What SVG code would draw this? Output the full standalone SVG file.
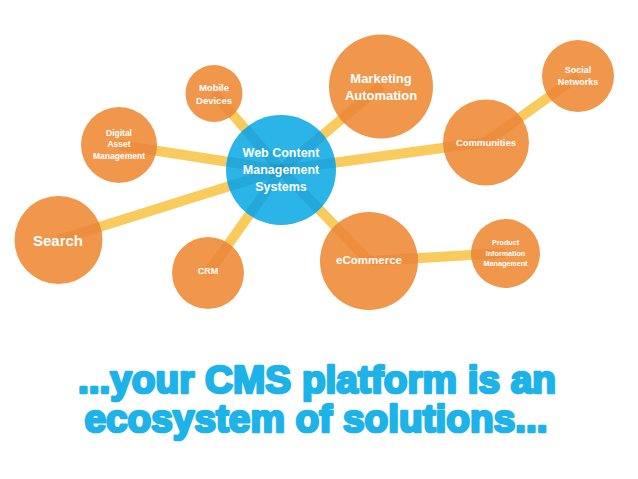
<svg xmlns="http://www.w3.org/2000/svg" xmlns:xlink="http://www.w3.org/1999/xlink" width="638" height="479" viewBox="0 0 638 479">
<style>
.o{fill:#F0974C}
.b{fill:#2AB4E8}
text{font-family:"Liberation Sans",Arial,Helvetica,sans-serif;font-weight:bold;fill:#ffffff;text-anchor:middle}
.title{fill:#1DB3E8;stroke:#1DB3E8;stroke-width:2.7;stroke-linejoin:round;font-size:38px}
</style>
<defs>
<g id="lines">
<line x1="281" y1="170" x2="214" y2="93"/>
<line x1="281" y1="170" x2="119" y2="145"/>
<line x1="281" y1="170" x2="58" y2="240"/>
<line x1="281" y1="170" x2="208" y2="273"/>
<line x1="281" y1="170" x2="381" y2="86"/>
<line x1="281" y1="170" x2="486" y2="142"/>
<line x1="486" y1="142" x2="578" y2="76"/>
<line x1="281" y1="170" x2="369" y2="261"/>
<line x1="369" y1="261" x2="505" y2="253"/>
</g>
<clipPath id="clipO">
<circle cx="214" cy="93.5" r="28.5"/><circle cx="119" cy="145" r="38"/><circle cx="58.5" cy="240" r="44"/><circle cx="208" cy="273" r="36"/><circle cx="381" cy="86.5" r="52"/><circle cx="486" cy="142.5" r="43"/><circle cx="578" cy="76" r="36"/><circle cx="369" cy="261" r="49"/><circle cx="505.5" cy="253.5" r="34.5"/>
</clipPath>
<clipPath id="clipB"><circle cx="281" cy="170" r="55"/></clipPath>
</defs>
<rect width="638" height="479" fill="#ffffff"/>
<g id="connectors">
<use xlink:href="#lines" href="#lines" stroke="#F9CB5C" stroke-width="10"/>
</g>
<g id="node-mobile"><circle class="o" cx="214" cy="93.5" r="28.5"/></g>
<g id="node-dam"><circle class="o" cx="119" cy="145" r="38"/></g>
<g id="node-search"><circle class="o" cx="58.5" cy="240" r="44"/></g>
<g id="node-crm"><circle class="o" cx="208" cy="273" r="36"/></g>
<g id="node-marketing"><circle class="o" cx="381" cy="86.5" r="52"/></g>
<g id="node-communities"><circle class="o" cx="486" cy="142.5" r="43"/></g>
<g id="node-social"><circle class="o" cx="578" cy="76" r="36"/></g>
<g id="node-ecommerce"><circle class="o" cx="369" cy="261" r="49"/></g>
<g id="node-pim"><circle class="o" cx="505.5" cy="253.5" r="34.5"/></g>
<g id="node-wcms"><circle class="b" cx="281" cy="170" r="55"/></g>
<g id="connector-shading">
<use xlink:href="#lines" href="#lines" stroke="#E9781F" stroke-opacity="0.3" stroke-width="10" clip-path="url(#clipO)"/>
<use xlink:href="#lines" href="#lines" stroke="#1479A8" stroke-opacity="0.22" stroke-width="10" clip-path="url(#clipB)"/>
</g>
<g id="labels">
<text font-size="9.5" x="214" y="91">Mobile</text><text font-size="9.5" x="214" y="104">Devices</text>
<text font-size="8.5" x="119" y="136">Digital</text><text font-size="8.5" x="119" y="147">Asset</text><text font-size="8.5" x="119" y="159">Management</text>
<text font-size="15" x="58" y="245.5">Search</text>
<text font-size="9" x="208" y="274">CRM</text>
<text font-size="13" x="381" y="83">Marketing</text><text font-size="13" x="381" y="100">Automation</text>
<text font-size="9.5" x="486" y="146">Communities</text>
<text font-size="9" x="578" y="73">Social</text><text font-size="9" x="578" y="85">Networks</text>
<text font-size="11.5" x="369" y="264">eCommerce</text>
<text font-size="7.2" x="505.5" y="245">Product</text><text font-size="7.2" x="505.5" y="255.5">Information</text><text font-size="7.2" x="505.5" y="266">Management</text>
<text font-size="12.5" x="281" y="157">Web Content</text><text font-size="12.5" x="281" y="174">Management</text><text font-size="12.5" x="281" y="191">Systems</text>
</g>
<g id="title">
<text class="title" x="317" y="393" textLength="478" lengthAdjust="spacingAndGlyphs">...your CMS platform is an</text>
<text class="title" x="316" y="432" textLength="463" lengthAdjust="spacingAndGlyphs">ecosystem of solutions...</text>
</g>
</svg>
